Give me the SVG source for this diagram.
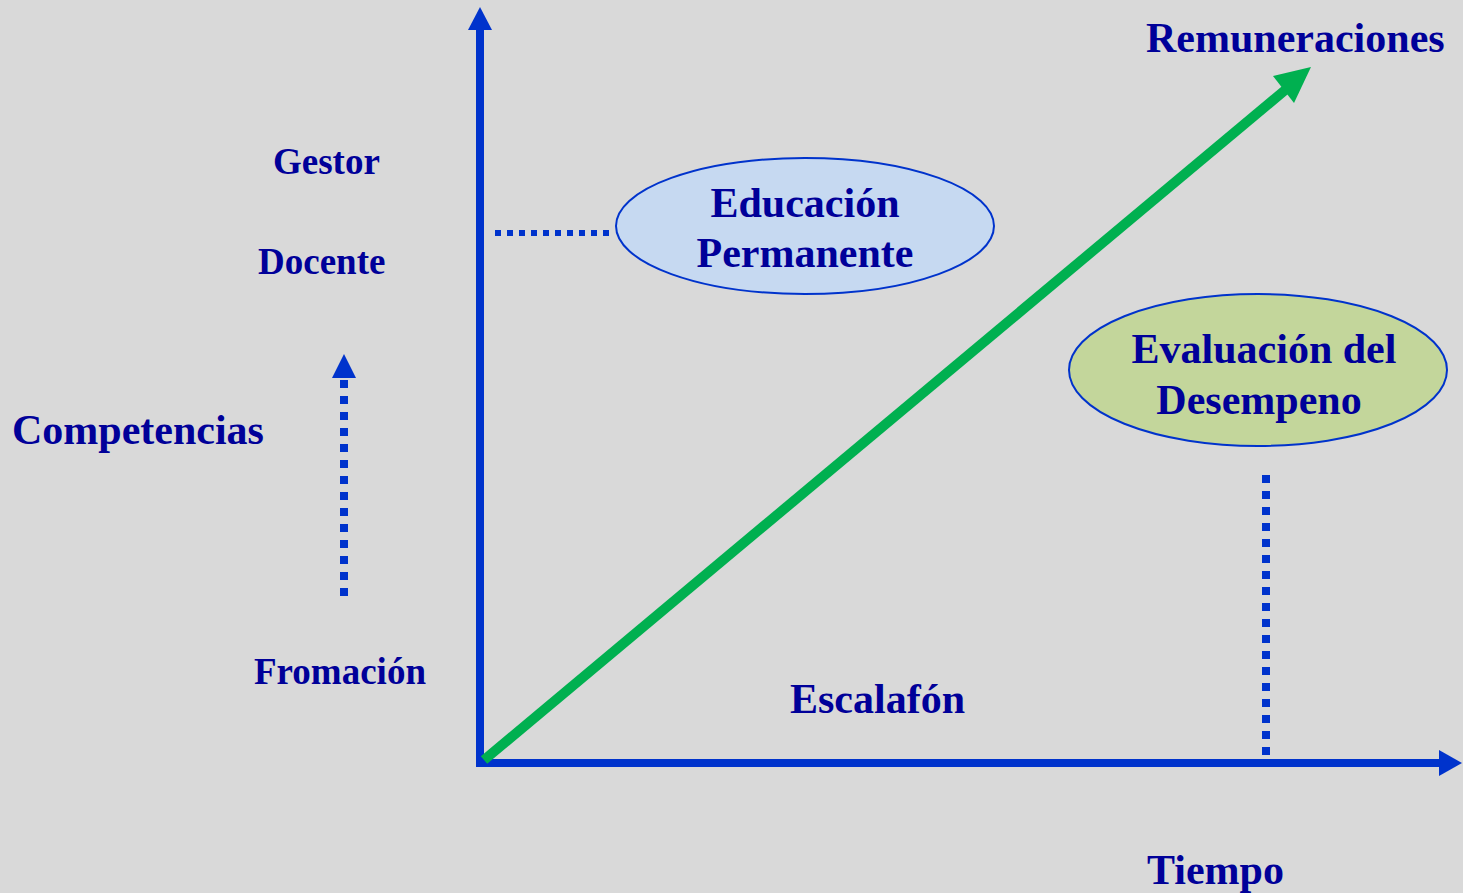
<svg xmlns="http://www.w3.org/2000/svg" width="1463" height="893" viewBox="0 0 1463 893">
<style>
.t{font-family:"Liberation Serif","Times New Roman",serif;font-weight:bold;fill:#000099}
.s{font-size:37px}
.l{font-size:42px}
.ax{stroke:#0033CC;stroke-width:8;fill:none}
.dot{stroke:#0033CC;fill:none}
.head{fill:#0033CC}
</style>
<rect width="1463" height="893" fill="#D9D9D9"/>
<g id="connectors">
<line class="ax" x1="480" y1="766" x2="480" y2="28"/>
<polygon class="head" points="468,30 480,7 492,30"/>
<line class="ax" x1="476" y1="763" x2="1441" y2="763"/>
<polygon class="head" points="1439,750 1462,763 1439,776"/>
<line x1="484" y1="760" x2="1290" y2="86" stroke="#00B050" stroke-width="10"/>
<polygon fill="#00B050" points="1273,76 1311,67 1294,103"/>
<line class="dot" x1="344" y1="596" x2="344" y2="380" stroke-width="8" stroke-dasharray="8 8"/>
<polygon class="head" points="332,378 344,354 356,378"/>
<line class="dot" x1="495" y1="233" x2="611" y2="233" stroke-width="6" stroke-dasharray="6 6"/>
<line class="dot" x1="1266" y1="475" x2="1266" y2="757" stroke-width="8" stroke-dasharray="8 8"/>
</g>
<g id="educacion">
<ellipse cx="805" cy="226" rx="189" ry="68" fill="#C6D9F1" stroke="#0033CC" stroke-width="2"/>
<text class="t l" x="805" y="217" text-anchor="middle">Educación</text>
<text class="t l" x="805" y="267" text-anchor="middle">Permanente</text>
</g>
<g id="evaluacion">
<ellipse cx="1258" cy="370" rx="189" ry="76" fill="#C3D69B" stroke="#0033CC" stroke-width="2"/>
<text class="t l" x="1264" y="363" text-anchor="middle">Evaluación del</text>
<text class="t l" x="1259" y="414" text-anchor="middle">Desempeno</text>
</g>
<g id="remuneraciones"><text class="t l" x="1146" y="52">Remuneraciones</text></g>
<g id="gestor"><text class="t s" x="273" y="174">Gestor</text></g>
<g id="docente"><text class="t s" x="258" y="274">Docente</text></g>
<g id="competencias"><text class="t l" x="12" y="444">Competencias</text></g>
<g id="fromacion"><text class="t s" x="254" y="684">Fromación</text></g>
<g id="escalafon"><text class="t l" x="790" y="713">Escalafón</text></g>
<g id="tiempo"><text class="t l" x="1147" y="884">Tiempo</text></g>
</svg>
